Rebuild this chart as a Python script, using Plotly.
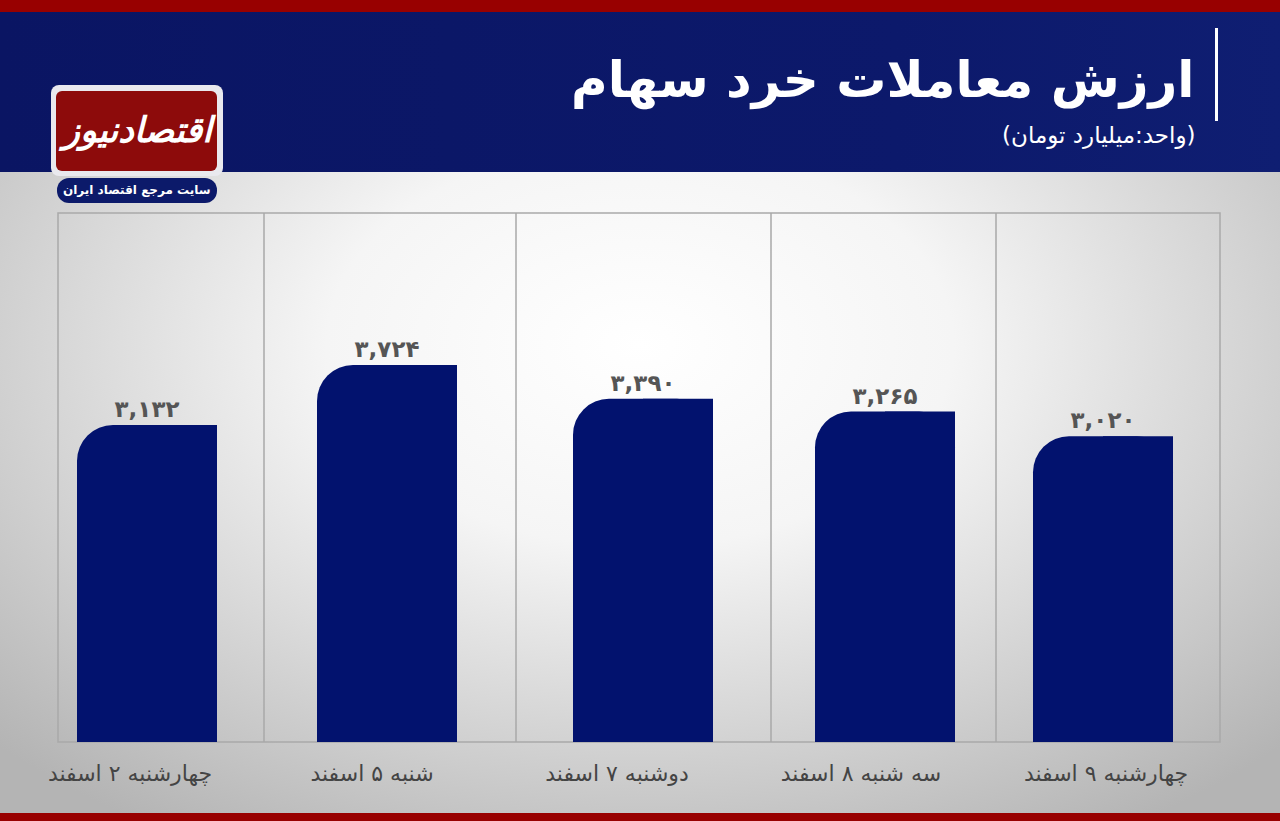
import base64
import plotly.graph_objects as go

# ---- data -------------------------------------------------------------
categories = [
    "چهارشنبه ۲ اسفند",
    "شنبه ۵ اسفند",
    "دوشنبه ۷ اسفند",
    "سه شنبه ۸ اسفند",
    "چهارشنبه ۹ اسفند",
]
values = [3132, 3724, 3390, 3265, 3020]

title_text = "ارزش معاملات خرد سهام"
subtitle_text = "(واحد:میلیارد تومان)"
brand_text = "اقتصادنیوز"
brand_tagline = "سایت مرجع اقتصاد ایران"

# ---- layout constants (pixel-like x units) -----------------------------
W, H = 1280, 821
PLOT_L, PLOT_R, PLOT_T, PLOT_B = 58, 1220, 213, 742
slot_edges = [264, 516, 771, 996]            # inner separators of the frame
bar_centers = [147, 387, 643, 885, 1103]
label_centers = [130, 372, 617, 861, 1106]
BAR_W = 140
Y_MAX = 5226

NAVY_BAR = "#02126e"
GRID = "#a9a9a9"

FA_DIGITS = str.maketrans("0123456789", "۰۱۲۳۴۵۶۷۸۹")


def fa_number(v):
    return f"{v:,}".translate(FA_DIGITS)


def px_x(px):
    return (px - PLOT_L) / (PLOT_R - PLOT_L)


def px_y(py):
    return (PLOT_B - py) / (PLOT_B - PLOT_T)


# ---- decorative background (gradient page, header band, logo plates) ---
svg = f"""<svg xmlns='http://www.w3.org/2000/svg' width='{W}' height='{H}' viewBox='0 0 {W} {H}' preserveAspectRatio='none'>
<defs>
<radialGradient id='bg' cx='50%' cy='42%' r='70%'>
<stop offset='0%' stop-color='#ffffff'/>
<stop offset='35%' stop-color='#f5f5f5'/>
<stop offset='100%' stop-color='#b4b4b4'/>
</radialGradient>
<linearGradient id='hd' x1='0' y1='0' x2='1' y2='0'>
<stop offset='0%' stop-color='#0a1563'/>
<stop offset='70%' stop-color='#0c196b'/>
<stop offset='100%' stop-color='#0f1e72'/>
</linearGradient>
</defs>
<rect x='0' y='0' width='{W}' height='{H}' fill='url(#bg)'/>
<rect x='0' y='12' width='{W}' height='160' fill='url(#hd)'/>
<rect x='0' y='0' width='{W}' height='12' fill='#980000'/>
<rect x='0' y='813' width='{W}' height='8' fill='#980000'/>
<rect x='1215' y='28' width='3' height='93' fill='#ffffff'/>
<rect x='51' y='85' width='172' height='91' rx='8' fill='#e9e9ee'/>
<rect x='56' y='91' width='161' height='80' rx='6' fill='#8d0b0b'/>
<rect x='57' y='178' width='160' height='25' rx='12' fill='#0c1a6a'/>
</svg>"""
bg_uri = "data:image/svg+xml;base64," + base64.b64encode(svg.encode("utf-8")).decode()

fig = go.Figure()

# Rounded bars (top-left corner rounding) ...
fig.add_trace(go.Bar(
    x=bar_centers, y=values, width=BAR_W,
    marker=dict(color=NAVY_BAR, cornerradius=36, line=dict(width=0)),
    text=[fa_number(v) for v in values],
    textposition="outside",
    textfont=dict(family="DejaVu Sans", size=23, color="#555555", weight="bold"),
    cliponaxis=False,
    hoverinfo="skip",
))
# ... with the right half squared off
fig.add_trace(go.Bar(
    x=[c + BAR_W / 4 for c in bar_centers], y=values, width=BAR_W / 2,
    marker=dict(color=NAVY_BAR, cornerradius=0, line=dict(width=0)),
    hoverinfo="skip",
))

shapes = [
    dict(type="rect", xref="paper", yref="paper", x0=0, x1=1, y0=0, y1=1,
         line=dict(color=GRID, width=1.5), layer="below"),
]
for e in slot_edges:
    shapes.append(dict(type="line", xref="x", yref="paper", x0=e, x1=e, y0=0, y1=1,
                       line=dict(color=GRID, width=1.5), layer="below"))

annotations = [
    dict(text=f"<b>{title_text}</b>", xref="paper", yref="paper",
         x=px_x(1196), y=px_y(80), xanchor="right", yanchor="middle",
         showarrow=False, font=dict(family="DejaVu Sans", size=50, color="#ffffff")),
    dict(text=subtitle_text, xref="paper", yref="paper",
         x=px_x(1198), y=px_y(136), xanchor="right", yanchor="middle",
         showarrow=False, font=dict(family="DejaVu Sans", size=23, color="#ffffff")),
    dict(text=f"<b><i>{brand_text}</i></b>", xref="paper", yref="paper",
         x=px_x(137), y=px_y(131), xanchor="center", yanchor="middle",
         showarrow=False, font=dict(family="DejaVu Sans", size=35, color="#ffffff")),
    dict(text=f"<b>{brand_tagline}</b>", xref="paper", yref="paper",
         x=px_x(137), y=px_y(190), xanchor="center", yanchor="middle",
         showarrow=False, font=dict(family="DejaVu Sans", size=12, color="#ffffff")),
]

fig.update_layout(
    width=W, height=H,
    margin=dict(l=PLOT_L, r=W - PLOT_R, t=PLOT_T, b=H - PLOT_B, pad=0),
    paper_bgcolor="#d9d9d9",
    plot_bgcolor="rgba(0,0,0,0)",
    barmode="overlay",
    showlegend=False,
    images=[dict(source=bg_uri, xref="paper", yref="paper",
                 x=px_x(0), y=px_y(0),
                 sizex=W / (PLOT_R - PLOT_L), sizey=H / (PLOT_B - PLOT_T),
                 xanchor="left", yanchor="top", sizing="stretch", layer="below")],
    shapes=shapes,
    annotations=annotations,
    xaxis=dict(range=[PLOT_L, PLOT_R], showgrid=False, zeroline=False,
               showline=False, tickvals=label_centers, ticktext=categories,
               ticks="outside", ticklen=12, tickcolor="rgba(0,0,0,0)",
               tickfont=dict(family="DejaVu Sans", size=22, color="#444444"),
               fixedrange=True),
    yaxis=dict(range=[0, Y_MAX], visible=False, fixedrange=True),
)

fig.write_html("out.html", config={"displayModeBar": False})
